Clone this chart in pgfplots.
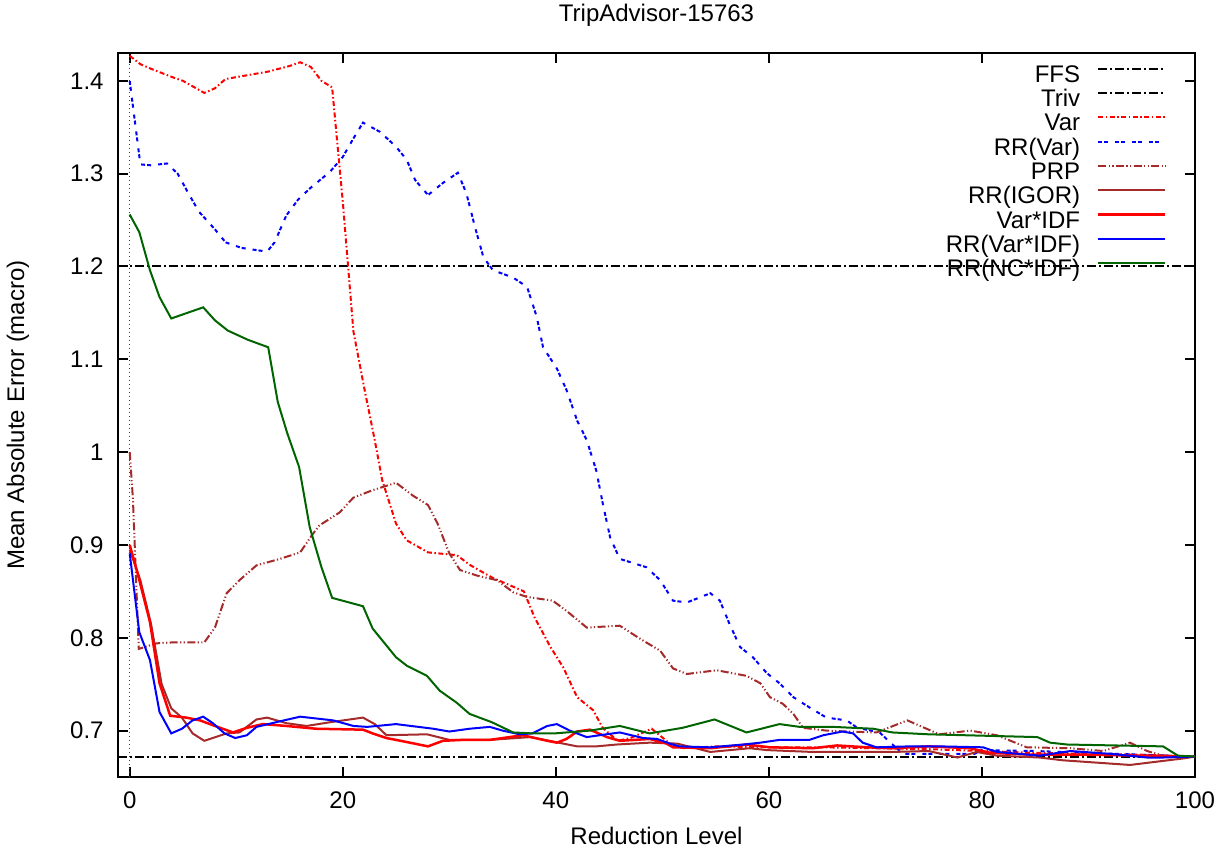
\documentclass[border=0pt]{standalone}
\usepackage{fontspec}
\setmainfont{Liberation Sans}
\usepackage{pgfplots}
\pgfplotsset{compat=1.18}
\definecolor{gpbrown}{RGB}{165,42,42}
\definecolor{gpgreen}{RGB}{0,100,0}
\begin{document}
\fontsize{12}{14}\selectfont
\begin{tikzpicture}
\begin{axis}[
  at={(0,0)}, anchor=south west,
  scale only axis, width=538.5pt, height=362pt,
  xmin=-1.1, xmax=100, ymin=0.65, ymax=1.43,
  xtick={0,20,40,60,80,100},
  ytick={0.7,0.8,0.9,1,1.1,1.2,1.3,1.4},
  /pgf/number format/assume math mode=true,
  axis line style={line width=1pt},
  tick style={line width=1pt, black},
  tick align=inside, major tick length=5pt,
  xtick pos=both, ytick pos=both,
  every tick label/.append style={font=\fontsize{12}{14}\selectfont},
  xticklabel style={anchor=center, yshift=-11.5pt, inner sep=0pt},
  yticklabel style={anchor=east, xshift=-7pt, inner sep=0pt},
  every axis title shift=0pt,
  title={TripAdvisor-15763},
  title style={at={(axis description cs:0.5,1.0525)}, anchor=center, font=\fontsize{12}{14}\selectfont},
  xlabel={Reduction Level},
  xlabel style={at={(axis description cs:0.5,-0.0815)}, anchor=center, font=\fontsize{12}{14}\selectfont},
  ylabel={Mean Absolute Error (macro)},
  ylabel style={at={(axis description cs:-0.0929,0.5)}, anchor=center, font=\fontsize{12}{14}\selectfont},
  legend plot pos=right,
  legend cell align=right,
  legend style={at={(axis description cs:0.974,0.985)}, anchor=north east, draw=none, fill=none,
    inner sep=0pt, row sep=0.65pt, column sep=0pt,
    font=\fontsize{12}{14}\selectfont,
    nodes={inner sep=0pt, text height=9pt, text depth=2.5pt}},
  legend image code/.code={\path (0pt,0pt); \draw[#1] (8.5pt,3.5pt) -- (42pt,3.5pt);},
  clip=true,
]
% vertical dotted zero line
\addplot[black!75, line width=0.6pt, dash pattern=on 0.6pt off 1.4pt, forget plot] coordinates {(0,0.65) (0,1.43)};
% FFS
\addplot[black, line width=1pt, dash pattern=on 4.5pt off 1.5pt on 1pt off 1.5pt] coordinates {(-1.1,0.672) (100,0.672)};
\addlegendentry{FFS}
% Triv
\addplot[black, line width=1pt, dash pattern=on 4.5pt off 1.5pt on 1pt off 1.5pt] coordinates {(-1.1,1.2) (100,1.2)};
\addlegendentry{Triv}
% Var
\addplot[red, line width=1pt, dash pattern=on 2.5pt off 1.25pt on 0.75pt off 1.25pt] coordinates {
(0,1.427)(1,1.418)(2,1.413)(4,1.404)(5,1.400)(7,1.387)(8,1.392)(9,1.402)(11,1.406)(13,1.410)(15,1.416)(16,1.420)(17,1.415)(18,1.400)(19,1.393)(20,1.27)(21,1.13)(22,1.07)(23,1.013)(23.7,0.97)(25,0.923)(26,0.905)(28,0.892)(30.7,0.889)(32,0.878)(34,0.865)(36,0.855)(37,0.850)(38,0.822)(39.5,0.79)(40.7,0.768)(42,0.736)(43.5,0.722)(44.4,0.703)(45.8,0.689)(47,0.692)(49,0.702)(50.7,0.686)(52,0.681)(55,0.683)(60,0.682)(65,0.682)(70,0.681)(75,0.680)(80,0.678)(85,0.676)(90,0.675)(95,0.674)(100,0.672)};
\addlegendentry{Var}
% RR(Var)
\addplot[blue, line width=1pt, dash pattern=on 2pt off 1pt on 2pt off 3.5pt] coordinates {
(0,1.40)(0.5,1.355)(1,1.31)(2,1.309)(3.5,1.311)(4.5,1.30)(5.5,1.279)(6.5,1.259)(8,1.24)(9,1.226)(10.5,1.22)(12.9,1.216)(13.6,1.226)(14.7,1.255)(15.8,1.272)(17,1.285)(18.8,1.302)(20,1.318)(21,1.338)(21.9,1.355)(23.5,1.345)(25,1.329)(26,1.315)(26.8,1.293)(28,1.277)(29.4,1.29)(30.8,1.301)(31.6,1.279)(32.4,1.243)(33.2,1.21)(34.1,1.196)(36,1.188)(37.3,1.178)(38.2,1.146)(38.8,1.113)(40.1,1.09)(41,1.067)(42,1.034)(42.9,1.013)(43.8,0.98)(44.4,0.945)(45.1,0.908)(46,0.885)(48.5,0.876)(49.8,0.862)(51,0.84)(52.3,0.838)(54.5,0.848)(55.4,0.84)(56.3,0.815)(57.3,0.79)(58.5,0.779)(59.8,0.762)(61,0.751)(62.3,0.736)(63.8,0.725)(65.4,0.714)(67.3,0.711)(68.3,0.703)(70.4,0.698)(71.4,0.687)(72.6,0.675)(75,0.675)(79.3,0.675)(80,0.679)(85,0.678)(90,0.676)(95,0.674)(100,0.672)};
\addlegendentry{RR(Var)}
% PRP
\addplot[gpbrown, line width=1pt, dash pattern=on 4pt off 1.2pt on 0.6pt off 1.2pt on 0.6pt off 1.2pt] coordinates {
(0,1.0)(0.3,0.95)(0.85,0.788)(2.5,0.794)(4,0.795)(7,0.795)(8,0.811)(9.1,0.848)(10.3,0.862)(11.9,0.878)(14.1,0.885)(16,0.892)(17.2,0.912)(17.8,0.921)(19.7,0.935)(21,0.951)(22.8,0.959)(25,0.967)(26.6,0.953)(28,0.943)(28.9,0.923)(30,0.891)(31,0.873)(32.6,0.867)(34.5,0.862)(36,0.849)(37.3,0.844)(39.7,0.84)(41,0.829)(42.9,0.811)(46,0.813)(47.9,0.799)(49.8,0.786)(51,0.767)(52.3,0.761)(55.1,0.765)(57.9,0.759)(59.2,0.751)(60.1,0.736)(61.3,0.729)(62.3,0.718)(63.2,0.703)(65.4,0.700)(67.3,0.699)(70.1,0.698)(73,0.711)(74.8,0.702)(76,0.696)(78.9,0.70)(81.4,0.695)(84.2,0.682)(88.3,0.681)(91.4,0.678)(93.9,0.687)(95.5,0.678)(97,0.673)(100,0.672)};
\addlegendentry{PRP}
% RR(IGOR)
\addplot[gpbrown, line width=1pt] coordinates {
(0,0.895)(1,0.862)(2,0.815)(3,0.75)(3.9,0.724)(4.9,0.714)(5.9,0.697)(7,0.689)(9.1,0.697)(10.3,0.698)(11.9,0.712)(12.9,0.714)(14.7,0.708)(16.6,0.705)(18.8,0.709)(21.9,0.714)(23,0.707)(24.1,0.695)(27.9,0.696)(30,0.69)(33.8,0.69)(37.6,0.693)(39.4,0.689)(42,0.683)(43.8,0.683)(45.7,0.685)(48.8,0.687)(51.4,0.686)(54.5,0.677)(58.2,0.681)(59.8,0.679)(64.1,0.677)(71.6,0.677)(75,0.678)(77.7,0.671)(79.5,0.677)(81.4,0.673)(85.4,0.671)(87.6,0.668)(93.9,0.663)(98.9,0.670)(100,0.672)};
\addlegendentry{RR(IGOR)}
% Var*IDF
\addplot[red, line width=1.25pt] coordinates {
(0,0.90)(0.75,0.869)(1.9,0.817)(2.8,0.751)(3.8,0.716)(5.3,0.714)(6.6,0.711)(8,0.705)(9.7,0.698)(11,0.703)(12.5,0.707)(14.7,0.705)(17.5,0.702)(21.9,0.701)(22.8,0.697)(24.1,0.692)(26.3,0.687)(28,0.683)(29.4,0.689)(31.3,0.69)(33.8,0.69)(36.9,0.695)(39.2,0.689)(40.1,0.687)(41,0.691)(42,0.699)(43.2,0.701)(44.8,0.693)(46,0.689)(48.8,0.691)(50.4,0.686)(51,0.682)(54.5,0.681)(57.9,0.685)(60.1,0.682)(64.1,0.681)(66.4,0.684)(69.2,0.682)(71.6,0.681)(75,0.683)(78.9,0.681)(80.8,0.676)(85,0.674)(90,0.674)(95,0.673)(100,0.672)};
\addlegendentry{Var*IDF}
% RR(Var*IDF)
\addplot[blue, line width=1pt] coordinates {
(0,0.891)(0.9,0.806)(1.9,0.776)(2.8,0.72)(3.9,0.697)(4.9,0.702)(5.9,0.711)(6.9,0.715)(7.8,0.708)(8.9,0.697)(9.9,0.692)(11,0.695)(11.9,0.704)(14.1,0.71)(16,0.715)(19.1,0.711)(21,0.705)(22.3,0.704)(25,0.707)(28.5,0.702)(30,0.699)(31.9,0.702)(33.8,0.704)(35,0.70)(36.6,0.696)(37.8,0.697)(39.2,0.705)(40.1,0.707)(41.3,0.70)(42.9,0.693)(44.1,0.695)(46,0.698)(48.2,0.692)(49.5,0.691)(50.7,0.686)(51.6,0.683)(54.5,0.682)(57.6,0.685)(59.2,0.687)(61,0.69)(63.8,0.69)(65.1,0.695)(66.9,0.699)(67.9,0.697)(68.8,0.687)(70.1,0.682)(73.2,0.683)(76,0.683)(80.1,0.682)(81.4,0.677)(85.4,0.673)(88.3,0.678)(92,0.675)(95.5,0.671)(97,0.671)(100,0.672)};
\addlegendentry{RR(Var*IDF)}
% RR(NC*IDF)
\addplot[gpgreen, line width=1pt] coordinates {
(0,1.256)(0.9,1.237)(1.9,1.196)(2.8,1.167)(3.9,1.144)(6.9,1.156)(8,1.142)(9.2,1.131)(11.1,1.121)(13,1.113)(13.9,1.054)(14.8,1.02)(15.9,0.984)(16.9,0.919)(18,0.876)(19,0.843)(21.9,0.834)(22.8,0.81)(25,0.779)(26,0.77)(27.9,0.759)(29.1,0.743)(30.7,0.73)(31.9,0.718)(34,0.709)(36,0.698)(37.8,0.697)(39.9,0.697)(43.2,0.70)(46,0.705)(48.8,0.697)(51.9,0.703)(54.9,0.712)(57.9,0.698)(61,0.707)(62.9,0.704)(66,0.704)(69.8,0.702)(71.6,0.698)(75,0.696)(85.2,0.693)(86.4,0.687)(88,0.685)(97,0.683)(98.4,0.673)(100,0.672)};
\addlegendentry{RR(NC*IDF)}
\end{axis}
\pgfresetboundingbox
\path[use as bounding box] (-59pt,-38pt) rectangle (556pt,388.5pt);
\end{tikzpicture}
\end{document}
